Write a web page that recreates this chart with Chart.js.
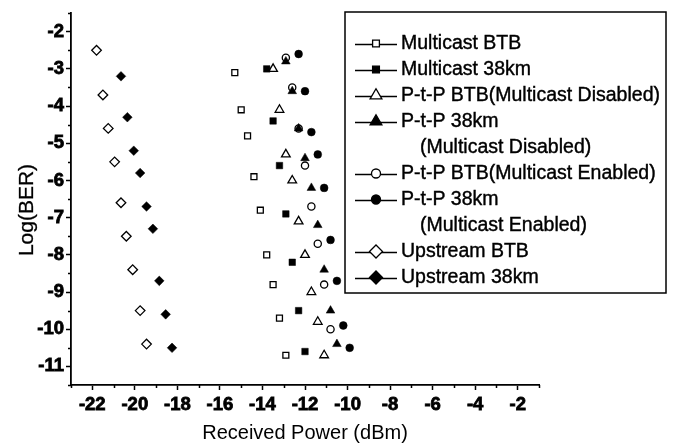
<!DOCTYPE html>
<html>
<head>
<meta charset="utf-8">
<script src="https://cdn.jsdelivr.net/npm/chart.js@4.4.1/dist/chart.umd.min.js"></script>
<style>
  html, body { margin: 0; padding: 0; background: #fff; }
  #wrap { width: 676px; height: 446px; }
</style>
</head>
<body>
<div id="wrap"><canvas id="berChart" width="676" height="446"></canvas></div>
<script>
// received power (dBm) and log(BER), one pair per curve
const multicastBtbPower = [-15.3, -15.0, -14.7, -14.4, -14.1, -13.8, -13.5, -13.2, -12.9];
const multicastBtbBer   = [-3.1, -4.1, -4.8, -5.9, -6.8, -8.0, -8.8, -9.7, -10.7];

const multicast38Power = [-13.8, -13.5, -13.2, -12.9, -12.6, -12.3, -12.0];
const multicast38Ber   = [-3.0, -4.4, -5.6, -6.9, -8.2, -9.5, -10.6];

const ptpBtbDisPower = [-13.5, -13.2, -12.9, -12.6, -12.3, -12.0, -11.7, -11.4, -11.1];
const ptpBtbDisBer   = [-3.0, -4.1, -5.3, -6.0, -7.1, -8.0, -9.0, -9.8, -10.7];

const ptp38DisPower = [-12.9, -12.6, -12.3, -12.0, -11.7, -11.4, -11.1, -10.8, -10.5];
const ptp38DisBer   = [-2.8, -3.6, -4.6, -5.4, -6.2, -7.2, -8.4, -9.5, -10.4];

const ptpBtbEnPower = [-12.9, -12.6, -12.3, -12.0, -11.7, -11.4, -11.1, -10.8];
const ptpBtbEnBer   = [-2.7, -3.5, -4.6, -5.6, -6.7, -7.7, -8.8, -10.0];

const ptp38EnPower = [-12.3, -12.0, -11.7, -11.4, -11.1, -10.8, -10.5, -10.2, -9.9];
const ptp38EnBer   = [-2.6, -3.6, -4.7, -5.3, -6.2, -7.6, -8.7, -9.9, -10.5];

const upBtbPower = [-21.8, -21.5, -21.25, -20.95, -20.65, -20.4, -20.1, -19.75, -19.45];
const upBtbBer   = [-2.5, -3.7, -4.6, -5.5, -6.6, -7.5, -8.4, -9.5, -10.4];

const up38Power = [-20.65, -20.35, -20.05, -19.75, -19.45, -19.15, -18.85, -18.55, -18.25];
const up38Ber   = [-3.2, -4.3, -5.2, -5.8, -6.7, -7.3, -8.7, -9.6, -10.5];

const seriesLabels = [
  ['Multicast BTB'],
  ['Multicast 38km'],
  ['P-t-P BTB(Multicast Disabled)'],
  ['P-t-P 38km', '(Multicast Disabled)'],
  ['P-t-P BTB(Multicast Enabled)'],
  ['P-t-P 38km', '(Multicast Enabled)'],
  ['Upstream BTB'],
  ['Upstream 38km']
];

const xTitle = 'Received Power (dBm)';
const yTitle = 'Log(BER)';

const FONT = '"Liberation Sans", Arial, Helvetica, sans-serif';

const powers = [multicastBtbPower, multicast38Power, ptpBtbDisPower, ptp38DisPower, ptpBtbEnPower, ptp38EnPower, upBtbPower, up38Power];
const bers = [multicastBtbBer, multicast38Ber, ptpBtbDisBer, ptp38DisBer, ptpBtbEnBer, ptp38EnBer, upBtbBer, up38Ber];

// marker look per curve (open = white fill, black outline)
const shapes = ['rect', 'rect', 'triangle', 'triangle', 'circle', 'circle', 'rectRot', 'rectRot'];
const filled = [false, true, false, true, false, true, false, true];
const sizes = [4.2, 4.6, 5, 5, 3.6, 3.9, 4.8, 4.8];
const legendSizes = [4.8, 4.8, 6.8, 6.8, 4.5, 4.5, 6.5, 6.5];

const datasets = seriesLabels.map((lbl, i) => ({
  label: lbl.join(' '),
  data: powers[i].map((p, j) => ({ x: p, y: bers[i][j] })),
  showLine: false,
  pointStyle: shapes[i],
  pointRadius: sizes[i],
  pointHoverRadius: sizes[i],
  pointBackgroundColor: filled[i] ? '#000' : '#fff',
  pointBorderColor: '#000',
  pointBorderWidth: filled[i] ? 0.5 : 1.3
}));

// minor ticks are shorter than major ones, draw them here
const minorTicks = {
  id: 'minorTicks',
  afterDraw(chart) {
    const ctx = chart.ctx;
    const xs = chart.scales.x, ys = chart.scales.y;
    ctx.save();
    ctx.strokeStyle = '#000';
    ctx.lineWidth = 1.5;
    ctx.beginPath();
    xs.ticks.forEach(t => {
      if (t.value % 2 !== 0) {
        const px = Math.round(xs.getPixelForValue(t.value)) + 0.5;
        ctx.moveTo(px, xs.top);
        ctx.lineTo(px, xs.top + 3);
      }
    });
    ys.ticks.forEach(t => {
      if (!Number.isInteger(t.value)) {
        const py = Math.round(ys.getPixelForValue(t.value)) + 0.5;
        ctx.moveTo(ys.right, py);
        ctx.lineTo(ys.right - 3, py);
      }
    });
    ctx.stroke();

    // y title sits a bit lower than the axis middle in the original
    ctx.fillStyle = '#000';
    ctx.font = '21px ' + FONT;
    ctx.translate(27, 210);
    ctx.rotate(-Math.PI / 2);
    ctx.textAlign = 'center';
    ctx.textBaseline = 'middle';
    ctx.fillText(yTitle, 0, 0);
    ctx.lineWidth = 0.3;
    ctx.strokeText(yTitle, 0, 0);
    ctx.restore();
  }
};

const boxLegend = {
  id: 'boxLegend',
  afterDraw(chart) {
    const ctx = chart.ctx;
    const box = { left: 345, top: 12, right: 666, bottom: 293 };
    ctx.save();
    ctx.fillStyle = '#fff';
    ctx.fillRect(box.left, box.top, box.right - box.left, box.bottom - box.top);
    ctx.strokeStyle = '#000';
    ctx.lineWidth = 1.5;
    ctx.strokeRect(box.left, box.top, box.right - box.left, box.bottom - box.top);

    let y = 43.5;
    const rowH = 26;
    ctx.font = '19.5px ' + FONT;
    ctx.textBaseline = 'middle';
    seriesLabels.forEach((lines, i) => {
      ctx.strokeStyle = '#000';
      ctx.lineWidth = 1.3;
      ctx.beginPath();
      ctx.moveTo(355, Math.round(y) + 0.5);
      ctx.lineTo(397, Math.round(y) + 0.5);
      ctx.stroke();
      ctx.fillStyle = filled[i] ? '#000' : '#fff';
      Chart.helpers.drawPoint(ctx, { pointStyle: shapes[i], radius: legendSizes[i], rotation: 0, borderWidth: 1.3 }, 376, y);
      ctx.fillStyle = '#000';
      ctx.lineWidth = 0.4;
      lines.forEach((txt, k) => {
        const tx = k === 0 ? 401 : 420;
        ctx.fillText(txt, tx, y);
        ctx.strokeText(txt, tx, y);
        y += rowH;
      });
    });
    ctx.restore();
  }
};

new Chart(document.getElementById('berChart'), {
  type: 'scatter',
  data: { datasets },
  options: {
    responsive: false,
    devicePixelRatio: 1,
    animation: false,
    layout: { padding: { top: 5, right: 137, left: 0, bottom: 0 } },
    plugins: { legend: { display: false }, tooltip: { enabled: false } },
    scales: {
      x: {
        type: 'linear',
        min: -23,
        max: -1,
        border: { color: '#000', width: 1.8 },
        grid: {
          drawOnChartArea: false,
          tickLength: 5,
          tickWidth: 1.5,
          tickColor: c => (c.tick && c.tick.value % 2 === 0) ? '#000' : 'rgba(0,0,0,0)'
        },
        ticks: {
          stepSize: 1,
          autoSkip: false,
          maxRotation: 0,
          color: '#000',
          padding: 4,
          textStrokeColor: '#000',
          textStrokeWidth: 0.8,
          font: { family: FONT, size: 18.5, weight: 'bold' },
          callback: v => (v % 2 === 0 ? String(v) : '')
        },
        title: {
          display: true,
          text: xTitle,
          color: '#000',
          font: { family: FONT, size: 20 },
          padding: { top: 0, bottom: 1 }
        },
        afterFit: s => { s.height = 61; }
      },
      y: {
        type: 'linear',
        min: -11.5,
        max: -1.5,
        border: { color: '#000', width: 1.8 },
        grid: {
          drawOnChartArea: false,
          tickLength: 5,
          tickWidth: 1.5,
          tickColor: c => (c.tick && Number.isInteger(c.tick.value)) ? '#000' : 'rgba(0,0,0,0)'
        },
        ticks: {
          stepSize: 0.5,
          autoSkip: false,
          color: '#000',
          padding: 2,
          textStrokeColor: '#000',
          textStrokeWidth: 0.8,
          font: { family: FONT, size: 18.5, weight: 'bold' },
          callback: v => (Number.isInteger(v) ? String(v) : '')
        },
        afterFit: s => { s.width = 71; }
      }
    }
  },
  plugins: [minorTicks, boxLegend]
});
</script>
</body>
</html>
